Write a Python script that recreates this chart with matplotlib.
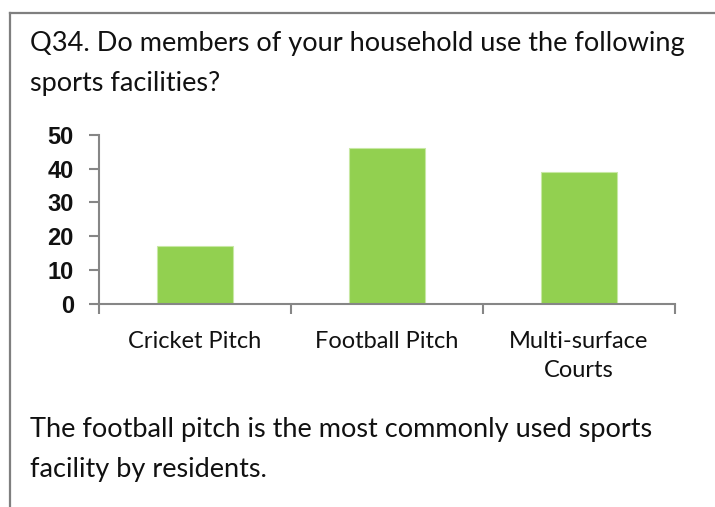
import matplotlib
matplotlib.use("Agg")
import matplotlib.pyplot as plt
from matplotlib.lines import Line2D

# ---------------------------
# Data
# ---------------------------
CATEGORIES = ["Cricket Pitch", "Football Pitch", "Multi-surface\nCourts"]
VALUES = [17, 46, 39]
Y_TICKS = [0, 10, 20, 30, 40, 50]

TITLE_LINES = ["Q34. Do members of your household use the following",
               "sports facilities?"]
NOTE_LINES = ["The football pitch is the most commonly used sports",
              "facility by residents."]

BAR_COLOR = "#92D050"
AXIS_GRAY = "#868686"
FONT = "Lato"

W, H = 715, 507


def fx(px):
    return px / W


def fy(py):
    return 1 - py / H


def main():
    plt.rcParams["font.family"] = [FONT, "DejaVu Sans"]
    fig = plt.figure(figsize=(W / 100, H / 100), dpi=100)

    # frame lines around the text box (top and left only)
    fig.add_artist(Line2D([fx(10), 1.0], [fy(13), fy(13)], color="#7f7f7f", lw=1.6))
    fig.add_artist(Line2D([fx(10), fx(10)], [fy(13), 0.0], color="#7f7f7f", lw=1.6))

    # title and note text
    for i, line in enumerate(TITLE_LINES):
        fig.text(fx(30), fy(51 + 40 * i), line, fontsize=19.5, color="#111111", va="baseline")
    for i, line in enumerate(NOTE_LINES):
        fig.text(fx(30), fy(437 + 40 * i), line, fontsize=19.5, color="#111111", va="baseline")

    ax = fig.add_axes([fx(99), fy(303.7), fx(675) - fx(99), fy(135) - fy(303.7)])
    x = range(len(CATEGORIES))
    ax.bar(x, VALUES, width=0.4, color=BAR_COLOR, edgecolor="#c8e8a4", linewidth=0.8, zorder=2)

    ax.set_xlim(-0.5, len(CATEGORIES) - 0.5)
    ax.set_ylim(0, Y_TICKS[-1])
    ax.set_yticks(Y_TICKS)
    ax.set_yticklabels([str(t) for t in Y_TICKS], fontweight="bold", fontsize=17,
                       family=["Liberation Sans", "DejaVu Sans"], color="#111111")

    # category boundaries get tick marks, labels sit between them
    ax.set_xticks([i - 0.5 for i in range(len(CATEGORIES) + 1)])
    ax.set_xticklabels([])
    ax.set_xticks(list(x), minor=True)
    ax.set_xticklabels(CATEGORIES, minor=True, fontsize=17, linespacing=1.45, color="#111111")
    ax.tick_params(axis="x", which="minor", length=0, pad=20)
    ax.tick_params(axis="x", which="major", length=7, width=1.5, color=AXIS_GRAY, direction="out")
    ax.tick_params(axis="y", length=7, width=1.5, color=AXIS_GRAY, direction="out", pad=11)

    for side in ("top", "right"):
        ax.spines[side].set_visible(False)
    for side in ("left", "bottom"):
        ax.spines[side].set_color(AXIS_GRAY)
        ax.spines[side].set_linewidth(1.5)

    fig.savefig("out.png", dpi=100)


if __name__ == "__main__":
    main()
